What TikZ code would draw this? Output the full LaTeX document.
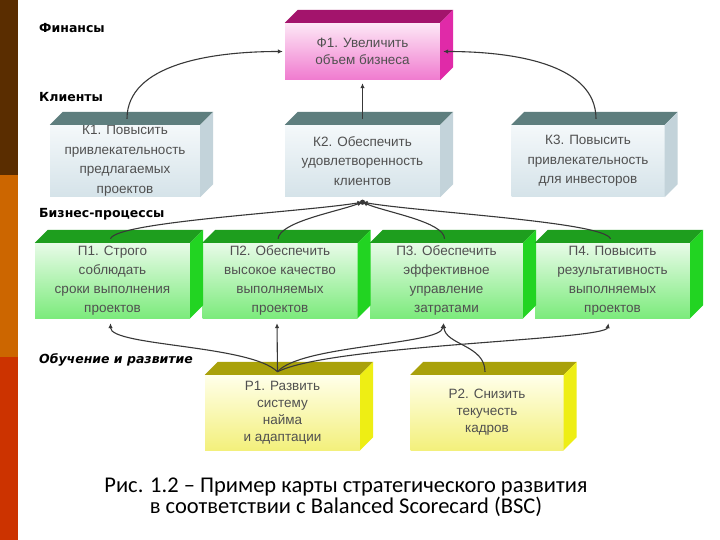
\documentclass[tikz,border=0pt]{standalone}
\usepackage{fontspec}
\setmainfont{Liberation Sans}
\newfontfamily\labfont{DejaVu Sans}
\newfontfamily\capfont{Carlito}
\usetikzlibrary{arrows.meta,calc}
\definecolor{stripeA}{HTML}{5A2D00}
\definecolor{stripeB}{HTML}{CC6600}
\definecolor{stripeC}{HTML}{CC3300}
\definecolor{txtgray}{HTML}{505050}
\definecolor{lineg}{HTML}{383838}
\definecolor{fTop}{HTML}{A3146C}
\definecolor{fSide}{HTML}{E02AA8}
\definecolor{fFrT}{HTML}{FDE8F6}
\definecolor{fFrB}{HTML}{F07ACF}
\definecolor{kTop}{HTML}{5E7E7E}
\definecolor{kSide}{HTML}{C3D3DA}
\definecolor{kFrT}{HTML}{F4F8FA}
\definecolor{kFrB}{HTML}{D5E3E9}
\definecolor{pTop}{HTML}{1E9E1E}
\definecolor{pSide}{HTML}{22D422}
\definecolor{pFrT}{HTML}{E8FBE8}
\definecolor{pFrB}{HTML}{7CEB7C}
\definecolor{rTop}{HTML}{A9A10A}
\definecolor{rSide}{HTML}{EEEE14}
\definecolor{rFrT}{HTML}{FFFFEA}
\definecolor{rFrB}{HTML}{F3F07C}
\tikzset{
  boxbase/.style={rectangle, inner sep=0pt, align=center, text=txtgray},
  fbox/.style={boxbase, top color=fFrT, bottom color=fFrB, minimum width=155pt, minimum height=57pt, font=\fontsize{13.5}{17}\selectfont},
  kbox/.style={boxbase, top color=kFrT, bottom color=kFrB, minimum height=72pt, font=\fontsize{13.5}{19.5}\selectfont},
  pbox/.style={boxbase, top color=pFrT, bottom color=pFrB, minimum height=75pt, font=\fontsize{13.5}{19}\selectfont},
  rbox/.style={boxbase, top color=rFrT, bottom color=rFrB, minimum height=75pt, font=\fontsize{13.5}{17}\selectfont},
  lab/.style={anchor=west, inner sep=0pt, font=\labfont\bfseries\fontsize{12.5}{14}\selectfont},
  conn/.style={draw=lineg, line width=1.1pt},
  arr/.style={-{Latex[length=5pt,width=4.5pt]}},
}
\begin{document}
\begin{tikzpicture}[x=1pt,y=-1pt]
\useasboundingbox (0,0) rectangle (720,540);
\fill[white] (0,0) rectangle (720,540);
% left stripe
\fill[stripeA] (0,0) rectangle (18,175);
\fill[stripeB] (0,175) rectangle (18,357);
\fill[stripeC] (0,357) rectangle (18,540);
% row labels
\node[lab] (lfin) at (39,28) {Финансы};
\node[lab] (lkli) at (39,97) {Клиенты};
\node[lab] (lbiz) at (39,214) {Бизнес-процессы};
\node[lab, font=\labfont\bfseries\itshape\fontsize{12.5}{14}\selectfont] (lobu) at (39,360) {Обучение и развитие};
% boxes (front faces)
\node[fbox] (F1) at (362.5,51.5) {Ф1. Увеличить\\объем бизнеса};
\node[kbox, minimum width=150pt] (K1) at (125,161) {К1. Повысить\\привлекательность\\предлагаемых\\проектов};
\node[kbox, minimum width=155pt] (K2) at (362.5,161) {К2. Обеспечить\\удовлетворенность\\клиентов};
\node[kbox, minimum width=153pt] (K3) at (588,161) {К3. Повысить\\привлекательность\\для инвесторов};
\node[pbox, minimum width=155pt] (P1) at (112.5,280.5) {П1. Строго\\соблюдать\\сроки выполнения\\проектов};
\node[pbox, minimum width=155pt] (P2) at (280,280.5) {П2. Обеспечить\\высокое качество\\выполняемых\\проектов};
\node[pbox, minimum width=153pt] (P3) at (446.5,280.5) {П3. Обеспечить\\эффективное\\управление\\затратами};
\node[pbox, minimum width=155pt] (P4) at (612.5,280.5) {П4. Повысить\\результативность\\выполняемых\\проектов};
\node[rbox, minimum width=155pt] (R1) at (282.5,412.5) {Р1. Развить\\систему\\найма\\и адаптации};
\node[rbox, minimum width=153pt] (R2) at (487,412.5) {Р2. Снизить\\текучесть\\кадров};
% top and side faces
\foreach \n/\tc/\sc in {F1/fTop/fSide, K1/kTop/kSide, K2/kTop/kSide, K3/kTop/kSide,
  P1/pTop/pSide, P2/pTop/pSide, P3/pTop/pSide, P4/pTop/pSide, R1/rTop/rSide, R2/rTop/rSide}{
  \fill[\tc] (\n.north west) -- ++(13,-13) -- ($(\n.north east)+(13,-13)$) -- (\n.north east) -- cycle;
  \fill[\sc] (\n.north east) -- ++(13,-13) -- ($(\n.south east)+(13,-13)$) -- (\n.south east) -- cycle;
}
% connection points
\coordinate (hubK) at ($(K2.south)+(0,5)$);
\coordinate (hubR) at ($(R1.north)+(-5,-3)$);
\coordinate (topR2) at ($(R2.north)+(-2,-3)$);
\coordinate (botP1) at ($(P1.south)+(-2,5)$);
\coordinate (botP2) at ($(P2.south)+(-3,5)$);
\coordinate (botP3) at ($(P3.south)+(-3,5)$);
\coordinate (botP4) at ($(P4.south)+(-4,5)$);
% clients -> finance
\draw[conn, arr] ($(K1.north)+(2,-6)$) .. controls +(0,-55) and +(-70,0) .. ($(F1.west)+(-2,0)$);
\draw[conn, arr] ($(K3.north)+(8,-6)$) .. controls +(0,-55) and +(70,0) .. ($(F1.east)+(3,0)$);
\draw[conn, arr] ($(K2.north)+(0,-6)$) -- ($(F1.south)+(0,3)$);
% processes -> clients
\draw[conn, arr] ($(P1.north)+(-2,-4)$) .. controls +(5,-17) and +(-62,10) .. (hubK);
\draw[conn, arr] ($(P2.north)+(-2,-4)$) .. controls +(2,-17) and +(-27,10) .. (hubK);
\draw[conn, arr] ($(P3.north)+(-2,-4)$) .. controls +(0,-17) and +(23,10) .. (hubK);
\draw[conn, arr] ($(P4.north)+(-2,-4)$) .. controls +(-6,-17) and +(58,10) .. (hubK);
\fill[lineg] (hubK) circle (2.6pt);
% learning -> processes
\draw[conn, arr] (hubR) .. controls +(-27,-27) and +(0,23) .. (botP1);
\draw[conn, arr] (hubR) -- (botP2);
\draw[conn, arr] (hubR) .. controls +(23,-27) and +(-3,22) .. (botP3);
\draw[conn, arr] (hubR) .. controls +(53,-27) and +(-3,17) .. (botP4);
\draw[conn, arr] (topR2) .. controls +(0,-27) and +(2,22) .. (botP3);
% caption
\node[align=center, font=\capfont\fontsize{22.5}{21}\selectfont] (cap) at (346,497.5)
  {Рис. 1.2 – Пример карты стратегического развития\\в соответствии с Balanced Scorecard (BSC)};
\end{tikzpicture}
\end{document}
